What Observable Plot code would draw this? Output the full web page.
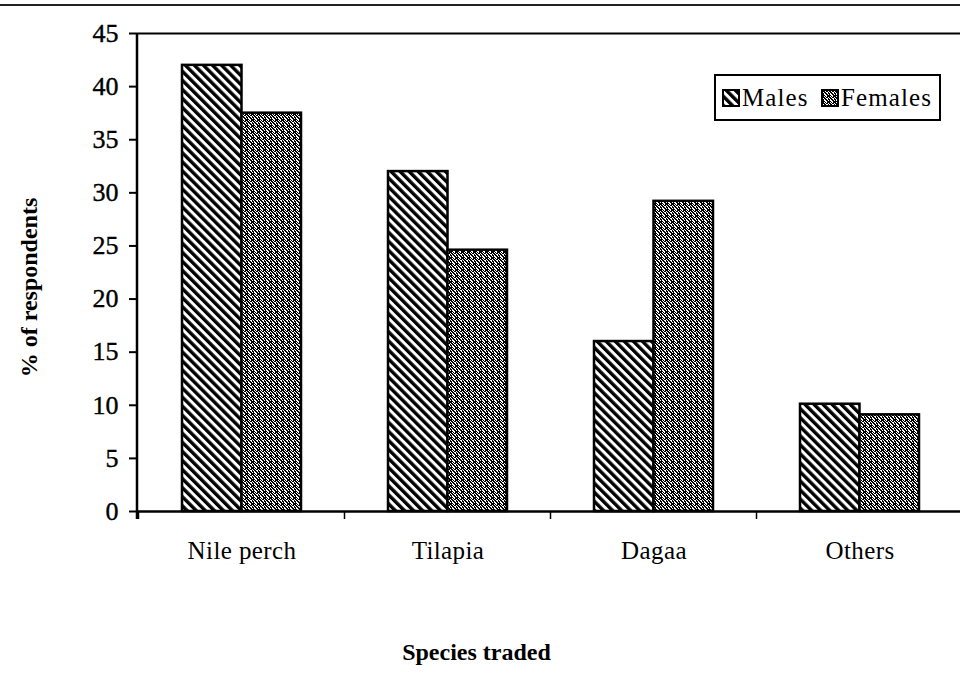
<!DOCTYPE html>
<html>
<head>
<meta charset="utf-8">
<script src="https://cdn.jsdelivr.net/npm/d3@7"></script>
<script src="https://cdn.jsdelivr.net/npm/@observablehq/plot@0.6"></script>
<style>
  html, body { margin: 0; padding: 0; background: #fff; }
  #chart { width: 960px; height: 676px; position: relative; overflow: hidden; }
  svg { font-family: "Liberation Serif", "DejaVu Serif", serif; }
</style>
</head>
<body>
<div id="chart"></div>
<script>
const categories = ["Nile perch", "Tilapia", "Dagaa", "Others"];
const males = [42, 32, 16, 10.1];
const females = [37.5, 24.6, 29.2, 9.1];
const yTicks = [0, 5, 10, 15, 20, 25, 30, 35, 40, 45];
const seriesNames = ["Males", "Females"];
const xLabel = "Species traded";
const yLabel = "% of respondents";

const maleData = categories.map((c, i) => ({category: c, sex: "Males", value: males[i]}));
const femaleData = categories.map((c, i) => ({category: c, sex: "Females", value: females[i]}));

const W = 960, H = 676, mL = 137, mR = -3, mT = 33, mB = 165;
const halfBand = 59.5;

const plot = Plot.plot({
  width: W, height: H,
  marginLeft: mL, marginRight: mR, marginTop: mT, marginBottom: mB,
  style: {fontFamily: "Liberation Serif, serif", background: "#fff", color: "#000", overflow: "visible"},
  x: {domain: categories, paddingInner: 0.424, paddingOuter: 0.212, axis: null},
  y: {domain: [0, 45], axis: null},
  color: {domain: seriesNames, range: ["url(#pat-males)", "url(#pat-females)"]},
  marks: [
    Plot.axisY({ticks: yTicks, tickSize: 8, tickPadding: 11, fontSize: 26, strokeWidth: 2, label: null}),
    Plot.axisX({tickSize: 0, tickPadding: 30, fontSize: 25, label: null}),
    Plot.rectY(maleData, {x: "category", y: "value", fill: "sex", stroke: "#000", strokeWidth: 2.5, insetRight: halfBand}),
    Plot.rectY(femaleData, {x: "category", y: "value", fill: "sex", stroke: "#000", strokeWidth: 2.5, insetLeft: halfBand}),
    Plot.ruleY([0], {stroke: "#000", strokeWidth: 2.5}),
    Plot.ruleY([45], {stroke: "#000", strokeWidth: 2}),
    Plot.text([xLabel], {frameAnchor: "bottom", textAnchor: "middle", dx: -74, dy: 141, fontSize: 24, fontWeight: "bold", lineAnchor: "middle", ariaLabel: "x-title"}),
    Plot.text([yLabel], {frameAnchor: "left", textAnchor: "middle", rotate: -90, dx: -108, dy: 15, fontSize: 24, fontWeight: "bold", lineAnchor: "middle", ariaLabel: "y-title"})
  ]
});

const svg = d3.select(plot);

// typography tweaks
svg.selectAll('g[aria-label="y-axis tick label"]').style("stroke", "#000").style("stroke-width", "0.4px");
svg.selectAll('g[aria-label="x-axis tick label"]').style("letter-spacing", "0.4px");
svg.selectAll('g[aria-label="x-title"]').style("letter-spacing", "0.7px");
svg.selectAll('g[aria-label="y-title"]').style("letter-spacing", "1.6px");

// patterns
const defs = svg.insert("defs", ":first-child");
const pm = defs.append("pattern").attr("id", "pat-males")
  .attr("patternUnits", "userSpaceOnUse").attr("width", 6.4).attr("height", 6.4)
  .attr("patternTransform", "rotate(-45)");
pm.append("rect").attr("width", 6.4).attr("height", 6.4).attr("fill", "#fff");
pm.append("rect").attr("width", 3.4).attr("height", 6.4).attr("fill", "#000");

const pf = defs.append("pattern").attr("id", "pat-females")
  .attr("patternUnits", "userSpaceOnUse").attr("width", 6).attr("height", 6);
pf.append("rect").attr("width", 6).attr("height", 6).attr("fill", "#fff");
const grid = ["XX.X.X",
              ".XX.XX",
              "X.XX..",
              "XX.XX.",
              ".X..XX",
              "XXX..X"];
grid.forEach((row, r) => [...row].forEach((ch, c) => {
  if (ch === "X") pf.append("rect").attr("x", c).attr("y", r).attr("width", 1).attr("height", 1).attr("fill", "#000");
}));

// scales
const xs = plot.scale("x");
const ys = plot.scale("y");
const step = xs.step, bw = xs.bandwidth;
const y0 = ys.apply(0), y45 = ys.apply(45);
const deco = svg.append("g").attr("stroke", "#000").attr("fill", "none");

// left axis line
deco.append("line").attr("x1", mL).attr("x2", mL).attr("y1", y45).attr("y2", y0 + 8).attr("stroke-width", 2.5);
// x ticks at category boundaries
const bounds = categories.map(c => xs.apply(c) - (step - bw) / 2);
bounds.forEach(b => deco.append("line").attr("x1", b).attr("x2", b).attr("y1", y0).attr("y2", y0 + 8).attr("stroke-width", 1.5));
// outer chart frame top
deco.append("line").attr("x1", 0).attr("x2", W).attr("y1", 5).attr("y2", 5).attr("stroke-width", 2).attr("stroke", "#222");

// legend
const lg = svg.append("g").attr("font-size", 25).attr("font-family", "Liberation Serif, serif")
  .attr("text-anchor", "start").style("letter-spacing", "1.1px");
lg.append("rect").attr("x", 715).attr("y", 75).attr("width", 225).attr("height", 45)
  .attr("fill", "#fff").attr("stroke", "#000").attr("stroke-width", 2);
const items = [{name: seriesNames[0], sx: 723, tx: 742, pat: "url(#pat-males)"},
               {name: seriesNames[1], sx: 822, tx: 841, pat: "url(#pat-females)"}];
items.forEach(it => {
  lg.append("rect").attr("x", it.sx).attr("y", 90).attr("width", 16).attr("height", 16)
    .attr("fill", it.pat).attr("stroke", "#000").attr("stroke-width", 2);
  lg.append("text").attr("x", it.tx).attr("y", 106).attr("fill", "#000").text(it.name);
});

document.getElementById("chart").appendChild(plot);
</script>
</body>
</html>
